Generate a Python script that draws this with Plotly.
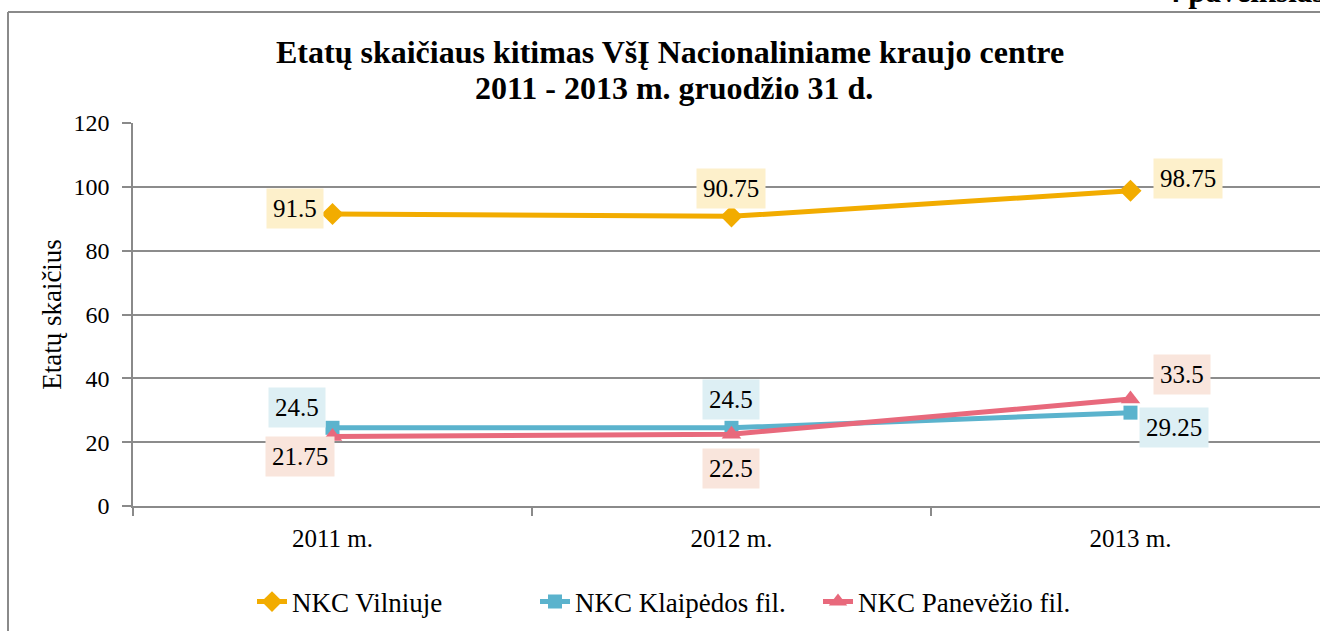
import plotly.graph_objects as go

categories = ["2011 m.", "2012 m.", "2013 m."]
vilnius = [91.5, 90.75, 98.75]
klaipeda = [24.5, 24.5, 29.25]
panevezys = [21.75, 22.5, 33.5]
series_names = ["NKC Vilniuje", "NKC Klaipėdos fil.", "NKC Panevėžio fil."]
y_ticks = [0, 20, 40, 60, 80, 100, 120]

colors = ["#F2AC00", "#5BB3CD", "#E8697C"]
label_bg = ["#FDF0CB", "#DDEFF4", "#F9E5DC"]
symbols = ["diamond", "square", "triangle-up"]
sizes = [17, 14, 17]

FONT = "Liberation Serif, Times New Roman, serif"

fig = go.Figure()
for vals, name, c, s, sz in zip([vilnius, klaipeda, panevezys], series_names, colors, symbols, sizes):
    fig.add_trace(go.Scatter(
        x=categories, y=vals, name=name, mode="lines+markers",
        line=dict(color=c, width=5),
        marker=dict(symbol=s, size=sz, color=c),
    ))

# data labels (offsets in pixels)
offsets = [
    [(-38, 5), (0, 28), (58, 12)],
    [(-36, 20), (0, 28), (44, -15)],
    [(-33, -20), (0, -34), (52, 25)],
]
for vals, bg, offs in zip([vilnius, klaipeda, panevezys], label_bg, offsets):
    for cat, v, (dx, dy) in zip(categories, vals, offs):
        fig.add_annotation(
            x=cat, y=v, xref="x", yref="y", text=f"{v:g}", showarrow=False,
            xshift=dx, yshift=dy, bgcolor=bg, borderpad=6,
            font=dict(family=FONT, size=25, color="black"),
        )

W, H = 1320, 631
L, T, B = 133, 123, 125
pw, ph = W - L, H - T - B

def px(x):
    return (x - L) / pw

def py(y):
    return (H - B - y) / ph

# outer chart border
fig.add_shape(type="line", xref="paper", yref="paper",
              x0=px(8), x1=px(8), y0=py(12), y1=py(640),
              line=dict(color="#8a8a8a", width=2))
fig.add_shape(type="line", xref="paper", yref="paper",
              x0=px(8), x1=1.01, y0=py(12), y1=py(12),
              line=dict(color="#8a8a8a", width=2))

fig.add_annotation(
    xref="paper", yref="paper", x=px(1163), y=py(11), xanchor="left", yanchor="bottom",
    text="<b>4 paveikslas</b>", showarrow=False,
    font=dict(family=FONT, size=31, color="black"),
)

# chart title (two lines)
fig.add_annotation(
    xref="paper", yref="paper", x=px(670), y=py(52), xanchor="center", yanchor="middle",
    text="<b>Etatų skaičiaus kitimas VšĮ Nacionaliniame kraujo centre</b>", showarrow=False,
    font=dict(family=FONT, size=32, color="black"),
)
fig.add_annotation(
    xref="paper", yref="paper", x=px(674), y=py(88), xanchor="center", yanchor="middle",
    text="<b>2011 - 2013 m. gruodžio 31 d.</b>", showarrow=False,
    font=dict(family=FONT, size=32, color="black"),
)

fig.update_layout(
    width=W, height=H,
    margin=dict(l=L, r=0, t=T, b=B, autoexpand=False),
    paper_bgcolor="white", plot_bgcolor="white",
    font=dict(family=FONT, size=24, color="black"),
    xaxis=dict(
        type="category", range=[-0.5, 2.475], automargin=False,
        showgrid=False, showline=True, linecolor="#8a8a8a", linewidth=1.5,
        ticks="outside", tickson="boundaries", ticklen=8, tickcolor="#8a8a8a", tickwidth=1.5,
        tickfont=dict(family=FONT, size=25), zeroline=False, ticklabelstandoff=9,
    ),
    yaxis=dict(
        range=[0, 120], tickvals=y_ticks, automargin=False,
        showgrid=True, gridcolor="#8c8c8c", gridwidth=1.5,
        showline=True, linecolor="#8a8a8a", linewidth=1.5,
        ticks="outside", ticklen=9, tickcolor="#8a8a8a", tickwidth=1.5,
        tickfont=dict(family=FONT, size=24), zeroline=False, ticklabelstandoff=8,
        title=dict(text="Etatų skaičius", font=dict(family=FONT, size=27), standoff=4),
    ),
    legend=dict(
        orientation="h", x=px(252), xref="paper", xanchor="left",
        y=py(602), yanchor="middle",
        font=dict(family=FONT, size=27), tracegroupgap=0,
        entrywidth=238, entrywidthmode="pixels",
    ),
)

fig.write_html(
    "out.html",
    config={"displayModeBar": False},
    post_script="document.body.style.margin='0';document.body.style.overflow='hidden';",
)
